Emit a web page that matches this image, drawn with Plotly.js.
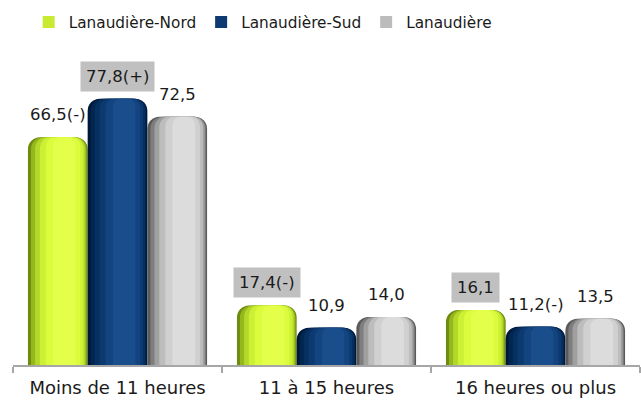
<!DOCTYPE html>
<html>
<head>
<meta charset="utf-8">
<script src="https://cdn.plot.ly/plotly-3.0.1.min.js"></script>
<style>html,body{margin:0;padding:0;background:#fff;}#chart{width:641px;height:400px;}</style>
</head>
<body>
<div id="chart"></div>
<script>
const categories = ['Moins de 11 heures', '11 à 15 heures', '16 heures ou plus'];
const seriesNames = ['Lanaudière-Nord', 'Lanaudière-Sud', 'Lanaudière'];
const nordValues = [66.5, 17.4, 16.1];
const sudValues = [77.8, 10.9, 11.2];
const lanaudiereValues = [72.5, 14.0, 13.5];
const nordLabels = ['66,5(-)', '17,4(-)', '16,1'];
const sudLabels = ['77,8(+)', '10,9', '11,2(-)'];
const lanaudiereLabels = ['72,5', '14,0', '13,5'];
const nordBoxed = [false, true, true];
const sudBoxed = [true, false, false];
const lanaudiereBoxed = [false, false, false];

const seriesValues = [nordValues, sudValues, lanaudiereValues];
const seriesLabels = [nordLabels, sudLabels, lanaudiereLabels];
const seriesBoxed = [nordBoxed, sudBoxed, lanaudiereBoxed];
const shades = [
  ['#6f8a10', '#94b81c', '#b4d82a', '#ccf034', '#dafc3c', '#e4ff4a'],
  ['#001838', '#012650', '#063060', '#0c3a70', '#13447f', '#1a4d8c'],
  ['#5a5a5a', '#7e7e7e', '#a0a0a0', '#bdbdbd', '#d0d0d0', '#dcdcdc']
];
const legendColors = ['#c8ea30', '#0d3a70', '#bcbcbc'];
const layerInsets = [[0, 1], [0.05, 0.98], [0.12, 0.96], [0.2, 0.93], [0.3, 0.88], [0.42, 0.8]];
const layerRadius = [12, 12, 11, 10, 9, 8];

const bargap = 0.143;
const bw = (1 - bargap) / 3;
const font = 'DejaVu Sans, sans-serif';

const traces = [];
const annotations = [];
seriesValues.forEach((vals, s) => {
  const start = -(1 - bargap) / 2 + s * bw;
  layerInsets.forEach((ins, l) => {
    traces.push({
      type: 'bar',
      x: categories,
      y: vals,
      name: seriesNames[s],
      offset: start + ins[0] * bw,
      width: (ins[1] - ins[0]) * bw,
      marker: {color: shades[s][l], cornerradius: layerRadius[l], line: {width: 0}},
      showlegend: false,
      hoverinfo: 'skip'
    });
  });
  vals.forEach((v, i) => {
    annotations.push({
      x: i + start + bw / 2,
      y: v,
      xref: 'x', yref: 'y',
      text: seriesLabels[s][i],
      showarrow: false,
      yanchor: 'bottom',
      yshift: 7,
      font: {family: font, size: 16.5, color: '#1a1a1a'},
      bgcolor: seriesBoxed[s][i] ? '#c0c0c0' : 'rgba(0,0,0,0)',
      borderpad: 5
    });
  });
});
// legend entries
seriesNames.forEach((n, s) => {
  traces.push({
    type: 'bar', x: [null], y: [null], name: n,
    marker: {color: legendColors[s]}, showlegend: true, hoverinfo: 'skip'
  });
});

const layout = {
  width: 641, height: 400,
  margin: {l: 13, r: 1, t: 74, b: 35},
  paper_bgcolor: '#ffffff', plot_bgcolor: '#ffffff',
  barmode: 'overlay',
  showlegend: true,
  legend: {orientation: 'h', x: 0.025, xanchor: 'left', y: 1.235, yanchor: 'top',
    font: {family: font, size: 15.3, color: '#1a1a1a'}, itemwidth: 30, traceorder: 'normal'},
  xaxis: {
    type: 'category', range: [-0.5, 2.5],
    showline: true, linecolor: '#a6a6a6', linewidth: 2,
    ticks: 'outside', tickson: 'boundaries', ticklen: 6, tickcolor: '#a6a6a6', tickwidth: 1.5,
    ticklabelstandoff: 5,
    tickfont: {family: font, size: 18, color: '#1a1a1a'},
    showgrid: false, zeroline: false, fixedrange: true
  },
  yaxis: {range: [0, 85], visible: false, showgrid: false, zeroline: false, fixedrange: true},
  annotations: annotations
};
Plotly.newPlot('chart', traces, layout, {displayModeBar: false, staticPlot: true});
</script>
</body>
</html>
